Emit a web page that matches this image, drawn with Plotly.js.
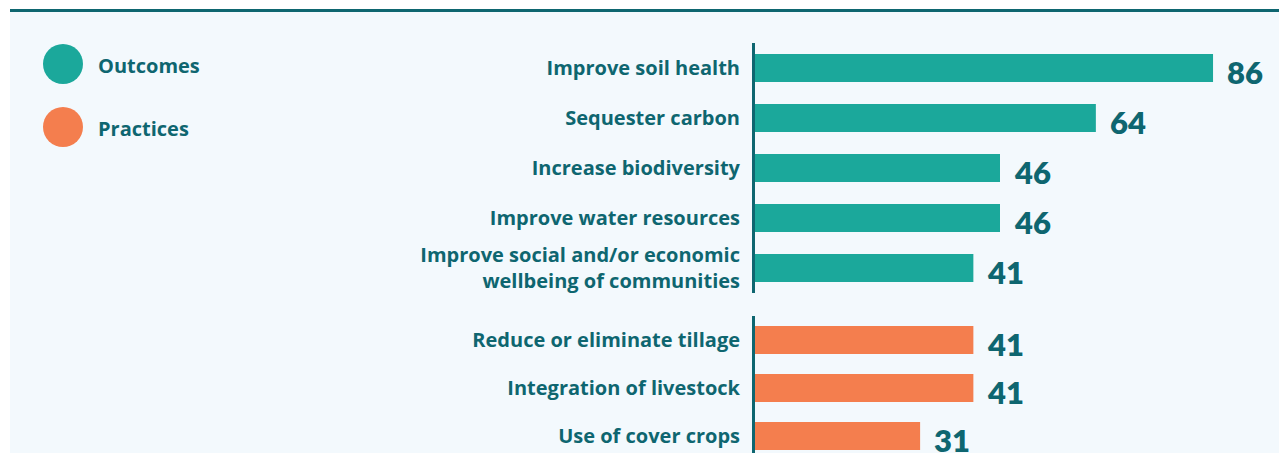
<!DOCTYPE html>
<html><head><meta charset="utf-8">
<script src="https://cdn.plot.ly/plotly-3.0.1.min.js"></script>
<style>html,body{margin:0;padding:0;background:#fff}#chart{width:1279px;height:453px}</style>
</head><body><div id="chart"></div>
<script>
const outcomeLabels = ["Improve soil health","Sequester carbon","Increase biodiversity","Improve water resources","Improve social and/or economic<br>wellbeing of communities"];
const outcomeValues = [86, 64, 46, 46, 41];
const practiceLabels = ["Reduce or eliminate tillage","Integration of livestock","Use of cover crops"];
const practiceValues = [41, 41, 31];
const legendNames = ["Outcomes","Practices"];

const TEAL = "#1ba89b", ORANGE = "#f47e4e", INK = "#0e6670", BG = "#f3f9fd";
const W = 1279, H = 453;
const px = v => v / W, py = v => 1 - v / H;
const LFONT = "'Open Sans', Lato, sans-serif";
const NFONT = "Lato, 'Open Sans', sans-serif";

const traces = [
  {type:"bar", orientation:"h", x: outcomeValues, y: outcomeLabels, xaxis:"x", yaxis:"y",
   marker:{color:TEAL}, width:0.56, hoverinfo:"none", showlegend:false},
  {type:"bar", orientation:"h", x: practiceValues, y: practiceLabels, xaxis:"x", yaxis:"y2",
   marker:{color:ORANGE}, width:0.58, hoverinfo:"none", showlegend:false}
];

const annotations = [];
outcomeValues.forEach((v,i)=>annotations.push({x:v, y:outcomeLabels[i], xref:"x", yref:"y", text:String(v),
  showarrow:false, xanchor:"left", yanchor:"middle", xshift:12, yshift:-4,
  font:{family:NFONT, size:31, color:INK, weight:800}}));
practiceValues.forEach((v,i)=>annotations.push({x:v, y:practiceLabels[i], xref:"x", yref:"y2", text:String(v),
  showarrow:false, xanchor:"left", yanchor:"middle", xshift:12, yshift:-4,
  font:{family:NFONT, size:31, color:INK, weight:800}}));
legendNames.forEach((n,i)=>annotations.push({x:px(96), y:py(65 + i*63), xref:"paper", yref:"paper", text:n,
  showarrow:false, xanchor:"left", yanchor:"middle",
  font:{family:LFONT, size:20, color:INK, weight:700}}));

const shapes = [
  {type:"rect", xref:"paper", yref:"paper", x0:px(10), x1:1, y0:0, y1:py(11), fillcolor:BG, line:{width:0}, layer:"below"},
  {type:"line", xref:"paper", yref:"paper", x0:px(10), x1:1, y0:py(10.5), y1:py(10.5), line:{color:INK, width:3}},
];
[TEAL, ORANGE].forEach((c,i)=>shapes.push({type:"circle", xref:"paper", yref:"paper",
  x0:px(43), x1:px(83), y0:py(44 + i*63), y1:py(84 + i*63), fillcolor:c, line:{width:0}}));

const yCommon = {type:"category", autorange:false, showgrid:false, zeroline:false, showline:true,
  linecolor:INK, linewidth:3, ticks:"outside", ticklen:8, tickcolor:"rgba(0,0,0,0)",
  tickfont:{family:LFONT, size:20, color:INK, weight:700}, fixedrange:true};

const layout = {
  width:W, height:H, margin:{l:0,r:0,t:0,b:0},
  paper_bgcolor:"#ffffff", plot_bgcolor:"rgba(0,0,0,0)",
  showlegend:false, bargap:0.4,
  xaxis:{domain:[px(755),1], range:[0,(W-755)/5.326], visible:false, fixedrange:true},
  yaxis:Object.assign({}, yCommon, {domain:[py(293), py(43)], range:[4.5,-0.5], anchor:"x"}),
  yaxis2:Object.assign({}, yCommon, {domain:[0, py(316)], range:[2.354,-0.5], anchor:"x"}),
  annotations, shapes
};
Plotly.newPlot("chart", traces, layout, {staticPlot:true, displayModeBar:false});
</script></body></html>
